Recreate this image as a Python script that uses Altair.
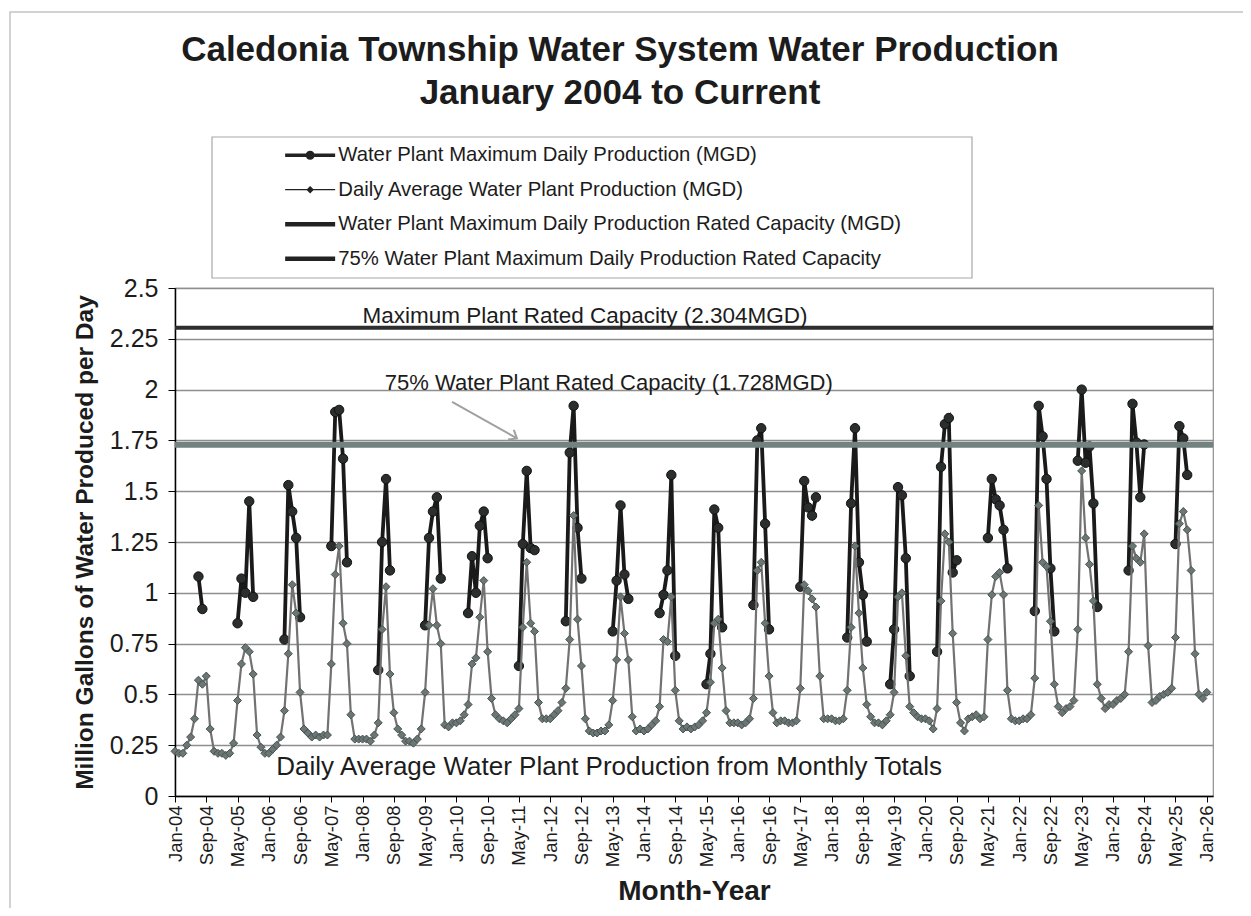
import json
import altair as alt
import pandas as pd

N = None

# ---------------- text ----------------
TITLE_LINE_1 = "Caledonia Township Water System Water Production"
TITLE_LINE_2 = "January 2004 to Current"
X_TITLE = "Month-Year"
Y_TITLE = "Million Gallons of Water Produced per Day"
SERIES = [
    "Water Plant Maximum Daily Production (MGD)",
    "Daily Average Water Plant Production (MGD)",
    "Water Plant Maximum Daily Production Rated Capacity (MGD)",
    "75% Water Plant Maximum Daily Production Rated Capacity",
]
NOTE_CAPACITY = "Maximum Plant Rated Capacity (2.304MGD)"
NOTE_75 = "75% Water Plant Rated Capacity (1.728MGD)"
NOTE_AVG = "Daily Average Water Plant Production from Monthly Totals"

RATED_CAPACITY = 2.304
RATED_CAPACITY_75 = 1.728

FIRST_YEAR = 2004
X_TICK_LABELS = [
    "Jan-04", "Sep-04", "May-05", "Jan-06", "Sep-06", "May-07", "Jan-08",
    "Sep-08", "May-09", "Jan-10", "Sep-10", "May-11", "Jan-12", "Sep-12",
    "May-13", "Jan-14", "Sep-14", "May-15", "Jan-16", "Sep-16", "May-17",
    "Jan-18", "Sep-18", "May-19", "Jan-20", "Sep-20", "May-21", "Jan-22",
    "Sep-22", "May-23", "Jan-24", "Sep-24", "May-25", "Jan-26",
]
X_TICK_STEP_MONTHS = 8
Y_TICKS = [0, 0.25, 0.5, 0.75, 1, 1.25, 1.5, 1.75, 2, 2.25, 2.5]

# ------------- daily average production (MGD), Jan..Dec -------------
AVG_2004 = [0.22, 0.21, 0.21, 0.25, 0.29, 0.38, 0.57, 0.55, 0.59, 0.33, 0.22, 0.21]
AVG_2005 = [0.21, 0.20, 0.21, 0.26, 0.47, 0.65, 0.73, 0.71, 0.60, 0.30, 0.24, 0.21]
AVG_2006 = [0.21, 0.23, 0.25, 0.29, 0.42, 0.70, 1.04, 0.90, 0.51, 0.33, 0.31, 0.29]
AVG_2007 = [0.30, 0.29, 0.30, 0.30, 0.65, 1.09, 1.23, 0.85, 0.75, 0.40, 0.28, 0.28]
AVG_2008 = [0.28, 0.28, 0.27, 0.30, 0.36, 0.82, 1.03, 0.60, 0.41, 0.33, 0.30, 0.27]
AVG_2009 = [0.27, 0.26, 0.28, 0.33, 0.51, 0.84, 1.02, 0.84, 0.75, 0.35, 0.34, 0.36]
AVG_2010 = [0.36, 0.37, 0.40, 0.45, 0.65, 0.68, 0.88, 1.06, 0.71, 0.48, 0.40, 0.38]
AVG_2011 = [0.37, 0.36, 0.38, 0.40, 0.43, 0.83, 1.15, 0.85, 0.81, 0.46, 0.38, 0.38]
AVG_2012 = [0.38, 0.40, 0.42, 0.46, 0.53, 0.77, 1.38, 0.87, 0.64, 0.38, 0.32, 0.31]
AVG_2013 = [0.31, 0.32, 0.32, 0.35, 0.47, 0.67, 0.98, 0.80, 0.67, 0.39, 0.32, 0.33]
AVG_2014 = [0.32, 0.33, 0.35, 0.37, 0.44, 0.77, 0.76, 0.98, 0.52, 0.37, 0.33, 0.34]
AVG_2015 = [0.33, 0.34, 0.35, 0.37, 0.41, 0.56, 0.85, 0.87, 0.63, 0.42, 0.36, 0.36]
AVG_2016 = [0.36, 0.35, 0.36, 0.38, 0.48, 1.11, 1.15, 0.85, 0.59, 0.41, 0.36, 0.37]
AVG_2017 = [0.37, 0.36, 0.36, 0.37, 0.53, 1.04, 1.01, 0.97, 0.93, 0.59, 0.38, 0.38]
AVG_2018 = [0.38, 0.37, 0.37, 0.38, 0.52, 0.83, 1.23, 0.90, 0.63, 0.45, 0.39, 0.36]
AVG_2019 = [0.36, 0.35, 0.37, 0.40, 0.51, 0.98, 1.00, 0.69, 0.44, 0.41, 0.39, 0.38]
AVG_2020 = [0.38, 0.37, 0.33, 0.43, 0.96, 1.29, 1.25, 0.80, 0.46, 0.36, 0.32, 0.38]
AVG_2021 = [0.39, 0.40, 0.38, 0.39, 0.77, 0.99, 1.08, 1.10, 0.99, 0.52, 0.38, 0.37]
AVG_2022 = [0.37, 0.38, 0.38, 0.40, 0.58, 1.43, 1.15, 1.13, 0.86, 0.55, 0.44, 0.41]
AVG_2023 = [0.43, 0.44, 0.47, 0.82, 1.60, 1.27, 1.14, 0.96, 0.55, 0.48, 0.43, 0.45]
AVG_2024 = [0.45, 0.47, 0.48, 0.50, 0.71, 1.23, 1.17, 1.15, 1.29, 0.74, 0.46, 0.47]
AVG_2025 = [0.49, 0.50, 0.51, 0.53, 0.78, 1.34, 1.40, 1.31, 1.11, 0.70, 0.50, 0.48]
AVG_2026 = [0.51]

# ------------- maximum daily production (MGD), Jan..Dec -------------
MAX_2004 = [N, N, N, N, N, N, 1.08, 0.92, N, N, N, N]
MAX_2005 = [N, N, N, N, 0.85, 1.07, 1.00, 1.45, 0.98, N, N, N]
MAX_2006 = [N, N, N, N, 0.77, 1.53, 1.40, 1.27, 0.88, N, N, N]
MAX_2007 = [N, N, N, N, 1.23, 1.89, 1.90, 1.66, 1.15, N, N, N]
MAX_2008 = [N, N, N, N, 0.62, 1.25, 1.56, 1.11, N, N, N, N]
MAX_2009 = [N, N, N, N, 0.84, 1.27, 1.40, 1.47, 1.07, N, N, N]
MAX_2010 = [N, N, N, 0.90, 1.18, 1.00, 1.33, 1.40, 1.17, N, N, N]
MAX_2011 = [N, N, N, N, 0.64, 1.24, 1.60, 1.22, 1.21, N, N, N]
MAX_2012 = [N, N, N, N, 0.86, 1.69, 1.92, 1.32, 1.07, N, N, N]
MAX_2013 = [N, N, N, N, 0.81, 1.06, 1.43, 1.09, 0.97, N, N, N]
MAX_2014 = [N, N, N, N, 0.90, 0.99, 1.11, 1.58, 0.69, N, N, N]
MAX_2015 = [N, N, N, N, 0.55, 0.70, 1.41, 1.32, 0.83, N, N, N]
MAX_2016 = [N, N, N, N, 0.94, 1.75, 1.81, 1.34, 0.82, N, N, N]
MAX_2017 = [N, N, N, N, 1.03, 1.55, 1.42, 1.38, 1.47, N, N, N]
MAX_2018 = [N, N, N, N, 0.78, 1.44, 1.81, 1.15, 0.99, 0.76, N, N]
MAX_2019 = [N, N, N, 0.55, 0.82, 1.52, 1.48, 1.17, 0.59, N, N, N]
MAX_2020 = [N, N, N, 0.71, 1.62, 1.83, 1.86, 1.10, 1.16, N, N, N]
MAX_2021 = [N, N, N, N, 1.27, 1.56, 1.46, 1.43, 1.31, 1.12, N, N]
MAX_2022 = [N, N, N, N, 0.91, 1.92, 1.77, 1.56, 1.12, 0.81, N, N]
MAX_2023 = [N, N, N, 1.65, 2.00, 1.64, 1.72, 1.44, 0.93, N, N, N]
MAX_2024 = [N, N, N, N, 1.11, 1.93, 1.74, 1.47, 1.73, N, N, N]
MAX_2025 = [N, N, N, N, 1.24, 1.82, 1.76, 1.58, N, N, N, N]
MAX_2026 = [N]

YEARS = list(range(2004, 2027))
AVG_BY_YEAR = [AVG_2004, AVG_2005, AVG_2006, AVG_2007, AVG_2008, AVG_2009,
               AVG_2010, AVG_2011, AVG_2012, AVG_2013, AVG_2014, AVG_2015,
               AVG_2016, AVG_2017, AVG_2018, AVG_2019, AVG_2020, AVG_2021,
               AVG_2022, AVG_2023, AVG_2024, AVG_2025, AVG_2026]
MAX_BY_YEAR = [MAX_2004, MAX_2005, MAX_2006, MAX_2007, MAX_2008, MAX_2009,
               MAX_2010, MAX_2011, MAX_2012, MAX_2013, MAX_2014, MAX_2015,
               MAX_2016, MAX_2017, MAX_2018, MAX_2019, MAX_2020, MAX_2021,
               MAX_2022, MAX_2023, MAX_2024, MAX_2025, MAX_2026]

# month number counted from January 2004 (0 = Jan-04)
avg_rows, max_rows = [], []
for year, avg_vals, max_vals in zip(YEARS, AVG_BY_YEAR, MAX_BY_YEAR):
    for k, v in enumerate(avg_vals):
        avg_rows.append({"month": (year - FIRST_YEAR) * 12 + k, "mgd": v})
    for k, v in enumerate(max_vals):
        if v is not None:
            max_rows.append({"month": (year - FIRST_YEAR) * 12 + k,
                             "mgd": v, "season": str(year)})
avg_df = pd.DataFrame(avg_rows)
max_df = pd.DataFrame(max_rows)

FONT = "Liberation Sans"
INK = "#1c1c1c"
X_DOMAIN = [0, 265.6]

x_enc = alt.X(
    "month:Q",
    title=X_TITLE,
    scale=alt.Scale(domain=X_DOMAIN, nice=False, zero=False),
    axis=alt.Axis(
        values=[i * X_TICK_STEP_MONTHS for i in range(len(X_TICK_LABELS))],
        tickCount=len(X_TICK_LABELS) + 10,
        labelExpr=f"{json.dumps(X_TICK_LABELS)}[round(datum.value / {X_TICK_STEP_MONTHS})]",
        labelAngle=270, labelFont=FONT, labelFontSize=18.5, labelColor=INK,
        labelPadding=3, labelOverlap=False, labelFlush=False, labelBound=False,
        labelSeparation=0,
        tickColor="#000", tickSize=6, domainColor="#000", domainWidth=1.5,
        grid=False, titleFont=FONT, titleFontSize=28, titleFontWeight="bold",
        titleColor=INK, titlePadding=11,
    ),
)
y_enc = alt.Y(
    "mgd:Q",
    title=Y_TITLE,
    scale=alt.Scale(domain=[0, 2.5], nice=False),
    axis=alt.Axis(
        values=Y_TICKS, tickCount=len(Y_TICKS) + 5,
        labelExpr="toString(datum.value)",
        labelFont=FONT, labelFontSize=25,
        labelColor=INK, labelPadding=10, tickColor="#000", tickSize=7,
        domainColor="#000", domainWidth=1.5, grid=True, gridColor="#8e8e8e",
        gridWidth=1.3, titleFont=FONT, titleFontSize=24.5, titleFontWeight="bold",
        titleColor=INK, titlePadding=12,
    ),
)

max_line = alt.Chart(max_df).mark_line(color="#1a1a1a", strokeWidth=3.8).encode(
    x=x_enc, y=y_enc, detail="season:N")
max_pts = alt.Chart(max_df).mark_point(
    shape="circle", filled=True, size=88, fill="#2a2e2e", stroke="#111",
    strokeWidth=1, opacity=1).encode(x=x_enc, y=y_enc)
avg_line = alt.Chart(avg_df).mark_line(color="#727272", strokeWidth=2.2).encode(
    x=x_enc, y=y_enc)
avg_pts = alt.Chart(avg_df).mark_point(
    shape="diamond", filled=True, size=64, fill="#6a7775", stroke="#485150",
    strokeWidth=1, opacity=1).encode(x=x_enc, y=y_enc)

one = pd.DataFrame({"k": [0]})
cap_rule = alt.Chart(one).mark_rule(color="#2e2e2e", strokeWidth=4).encode(
    y=alt.datum(RATED_CAPACITY))
cap75_rule = alt.Chart(one).mark_rule(color="#71827f", strokeWidth=6).encode(
    y=alt.datum(RATED_CAPACITY_75))

note_cap = alt.Chart(one).mark_text(
    text=NOTE_CAPACITY, font=FONT, fontSize=22.5, color=INK, align="center",
    baseline="alphabetic").encode(x=alt.datum(104.9), y=alt.datum(2.33))
note_75 = alt.Chart(one).mark_text(
    text=NOTE_75, font=FONT, fontSize=22, color=INK, align="center",
    baseline="alphabetic").encode(x=alt.datum(111.0), y=alt.datum(2.0))
note_avg = alt.Chart(one).mark_text(
    text=NOTE_AVG, font=FONT, fontSize=26, color=INK, align="center",
    baseline="alphabetic").encode(x=alt.datum(111.1), y=alt.datum(0.105))
arrow_line = alt.Chart(one).mark_rule(color="#a0a0a0", strokeWidth=2).encode(
    x=alt.datum(70.9), y=alt.datum(1.94), x2=alt.datum(87.5), y2=alt.datum(1.76))
arrow_head = alt.Chart(one).mark_point(
    shape="M-1,-0.8L0,0L-1,0.8", filled=False, size=200, angle=31,
    stroke="#a0a0a0", strokeWidth=2, opacity=1).encode(
    x=alt.datum(87.5), y=alt.datum(1.76))

# titles (real text, placed above the plot area)
title1 = alt.Chart(one).mark_text(
    text=TITLE_LINE_1, font=FONT, fontSize=35, fontWeight="bold", color=INK,
    align="center", baseline="alphabetic").encode(
    x=alt.value(445), y=alt.value(-227))
title2 = alt.Chart(one).mark_text(
    text=TITLE_LINE_2, font=FONT, fontSize=35, fontWeight="bold", color=INK,
    align="center", baseline="alphabetic").encode(
    x=alt.value(445), y=alt.value(-184))

# frames
legend_frame = alt.Chart(one).mark_rect(
    fillOpacity=0, stroke="#a8a8a8", strokeWidth=1.2).encode(
    x=alt.value(37), x2=alt.value(797), y=alt.value(-151), y2=alt.value(-10))
outer_frame = alt.Chart(one).mark_rect(
    fillOpacity=0, stroke="#c4c4c4", strokeWidth=1.5).encode(
    x=alt.value(-165), x2=alt.value(1070), y=alt.value(-276), y2=alt.value(640))

# legend: symbols are line + marker glyphs
LEGEND_GLYPHS = [
    "M-5,-0.35L5,-0.35L5,0.35L-5,0.35Z M-0.9,0A0.9,0.9 0 1,1 0.9,0A0.9,0.9 0 1,1 -0.9,0Z",
    "M-5,-0.12L5,-0.12L5,0.12L-5,0.12Z M0,-0.75L0.75,0L0,0.75L-0.75,0Z",
    "M-5,-0.45L5,-0.45L5,0.45L-5,0.45Z",
    "M-5,-0.45L5,-0.45L5,0.45L-5,0.45Z",
]
legend_layer = alt.Chart(pd.DataFrame({"series": SERIES})).transform_filter(
    "false").mark_point(filled=True, color="#222", opacity=1).encode(
    shape=alt.Shape(
        "series:N",
        scale=alt.Scale(domain=SERIES, range=LEGEND_GLYPHS),
        legend=alt.Legend(
            title=None, orient="none", legendX=125, legendY=-143,
            direction="vertical", symbolSize=100, symbolFillColor="#222",
            symbolStrokeWidth=0, labelFont=FONT, labelFontSize=20.3,
            labelColor=INK, labelOffset=18, labelLimit=0, rowPadding=13.5,
            padding=0,
        ),
    )
)

chart = alt.layer(
    outer_frame, legend_frame,
    max_line, max_pts, avg_line, avg_pts,
    cap_rule, cap75_rule,
    note_cap, note_75, note_avg, arrow_line, arrow_head,
    title1, title2, legend_layer,
).properties(
    width=1038, height=508,
    autosize=alt.AutoSizeParams(type="none"),
    padding={"left": 167, "top": 280, "right": 30, "bottom": 112},
    background="white",
).configure_view(stroke="#8e8e8e", strokeWidth=1.2).configure_axis(
    labelOverlap=False)

chart.save("out.html", embed_options={"renderer": "svg", "actions": False})
